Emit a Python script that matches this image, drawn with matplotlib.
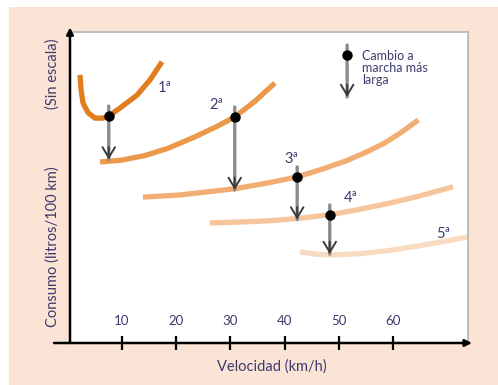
import matplotlib.pyplot as plt
import matplotlib.transforms as mtransforms
from matplotlib.patches import Rectangle

# velocidad (km/h) y consumo (sin escala, 0-100)
v1 = [2.3, 2.5, 2.85, 3.8, 5.1, 6.5, 7.6, 9.7, 12.8, 15.2, 17.4]
c1 = [86.2, 81.4, 77.2, 74.0, 72.3, 72.3, 73.0, 75.6, 79.7, 84.6, 90.4]
v2 = [6.0, 10.0, 14.3, 18.5, 23.5, 27.7, 30.8, 34.5, 38.2]
c2 = [58.2, 58.8, 60.3, 62.6, 66.3, 69.8, 72.7, 77.7, 83.6]
v3 = [13.9, 20.7, 30.8, 36.4, 42.3, 46.9, 51.5, 54.8, 58.1, 61.2, 64.6]
c3 = [46.9, 47.6, 49.6, 51.3, 53.4, 55.9, 58.7, 61.2, 64.0, 67.4, 71.7]
v4 = [26.2, 31.8, 37.3, 42.1, 48.3, 53.9, 59.4, 64.9, 71.0]
c4 = [38.6, 38.9, 39.3, 40.0, 41.2, 43.0, 45.0, 47.3, 50.2]
v5 = [42.8, 45.6, 48.3, 53.9, 59.4, 64.9, 70.4, 73.8]
c5 = [29.3, 28.6, 28.3, 28.7, 29.8, 31.3, 33.0, 34.1]

marchas = ['1ª', '2ª', '3ª', '4ª', '5ª']
# cambios de marcha: velocidad, consumo antes, consumo despues
cambio_v = [7.6, 30.8, 42.3, 48.3]
cambio_de = [73.0, 72.7, 53.4, 41.2]
cambio_a = [59.0, 49.2, 39.7, 28.6]

ticks = [10, 20, 30, 40, 50, 60]

txt_col = '#3c3b6e'
curve_cols = ['#e27d1e', '#ec984a', '#f2ae72', '#f6c59c', '#f9dbc2']
font = ['Lato', 'DejaVu Sans']

fig = plt.figure(figsize=(4.98, 3.85), dpi=100)
fig.patch.set_facecolor('white')
fig.patches.append(Rectangle((9 / 498, 0), 1, (385 - 7) / 385, transform=fig.transFigure,
                             facecolor='#fbe4d5', edgecolor='none', zorder=-1))

ax = fig.add_axes([70 / 498, 42 / 385, 398 / 498, 311 / 385])
ax.set_facecolor('white')
ax.set_xlim(0.46, 73.76)
ax.set_ylim(0, 100)

for sp in ['left', 'bottom']:
    ax.spines[sp].set_visible(False)
for sp in ['top', 'right']:
    ax.spines[sp].set_color('#b5b5b5')
    ax.spines[sp].set_linewidth(1.2)

# ejes con flecha
ax.annotate('', xy=(1.01, 0), xytext=(-0.04, 0), xycoords='axes fraction',
            arrowprops=dict(arrowstyle='-|>', color='black', lw=1.8,
                            mutation_scale=10, shrinkA=0, shrinkB=0), annotation_clip=False)
ax.annotate('', xy=(0, 1.015), xytext=(0, 0), xycoords='axes fraction',
            arrowprops=dict(arrowstyle='-|>', color='black', lw=1.8,
                            mutation_scale=10, shrinkA=0, shrinkB=0), annotation_clip=False)

ax.set_xticks(ticks)
ax.set_xticklabels([])
ax.set_yticks([])
ax.tick_params(axis='x', direction='inout', length=10, width=1.6, color='black')

trans = mtransforms.blended_transform_factory(ax.transData, ax.transAxes)
for t in ticks:
    ax.text(t, 0.07, str(t), transform=trans, ha='center', va='center',
            fontsize=9.5, color=txt_col, family=font)

vs = [v1, v2, v3, v4, v5]
cs = [c1, c2, c3, c4, c5]
for i in range(5):
    ax.plot(vs[i], cs[i], color=curve_cols[i], lw=3.8, solid_capstyle='butt',
            solid_joinstyle='round', zorder=2)

lab_pos = [(17.9, 82.0), (27.4, 76.5), (41.3, 59.2), (52.2, 46.6), (69.2, 35.1)]
for i in range(5):
    ax.text(lab_pos[i][0], lab_pos[i][1], marchas[i], ha='center', va='center',
            fontsize=10.5, color=txt_col, family=font)

def flecha(x, y0, y1):
    ax.annotate('', xy=(x, y1), xytext=(x, y0 + 3.2),
                arrowprops=dict(arrowstyle='-', color='#8c8c8c', lw=2.4,
                                shrinkA=0, shrinkB=0), zorder=3)
    ax.annotate('', xy=(x, y1), xytext=(x, y1 + 4),
                arrowprops=dict(arrowstyle='->, head_length=0.75, head_width=0.45',
                                color='#3a3a3a', lw=1.4, shrinkA=0, shrinkB=0), zorder=4)
    ax.plot(x, y0, 'o', color='black', ms=6.5, zorder=5)

for i in range(4):
    flecha(cambio_v[i], cambio_de[i], cambio_a[i])

# leyenda
flecha(51.5, 92.6, 79.1)
ax.text(54.3, 94.3, 'Cambio a\nmarcha más\nlarga', ha='left', va='top', fontsize=9,
        color=txt_col, family=font, linespacing=1.0)

fig.text(272 / 498, 1 - 367 / 385, 'Velocidad (km/h)', ha='center', va='center',
         fontsize=10.5, color=txt_col, family=font)
fig.text(53 / 498, 1 - 247 / 385, 'Consumo (litros/100 km)', ha='center', va='center',
         rotation=90, fontsize=10.5, color=txt_col, family=font)
fig.text(53 / 498, 1 - 74 / 385, '(Sin escala)', ha='center', va='center',
         rotation=90, fontsize=10.5, color=txt_col, family=font)

plt.savefig('out.png', dpi=100)
